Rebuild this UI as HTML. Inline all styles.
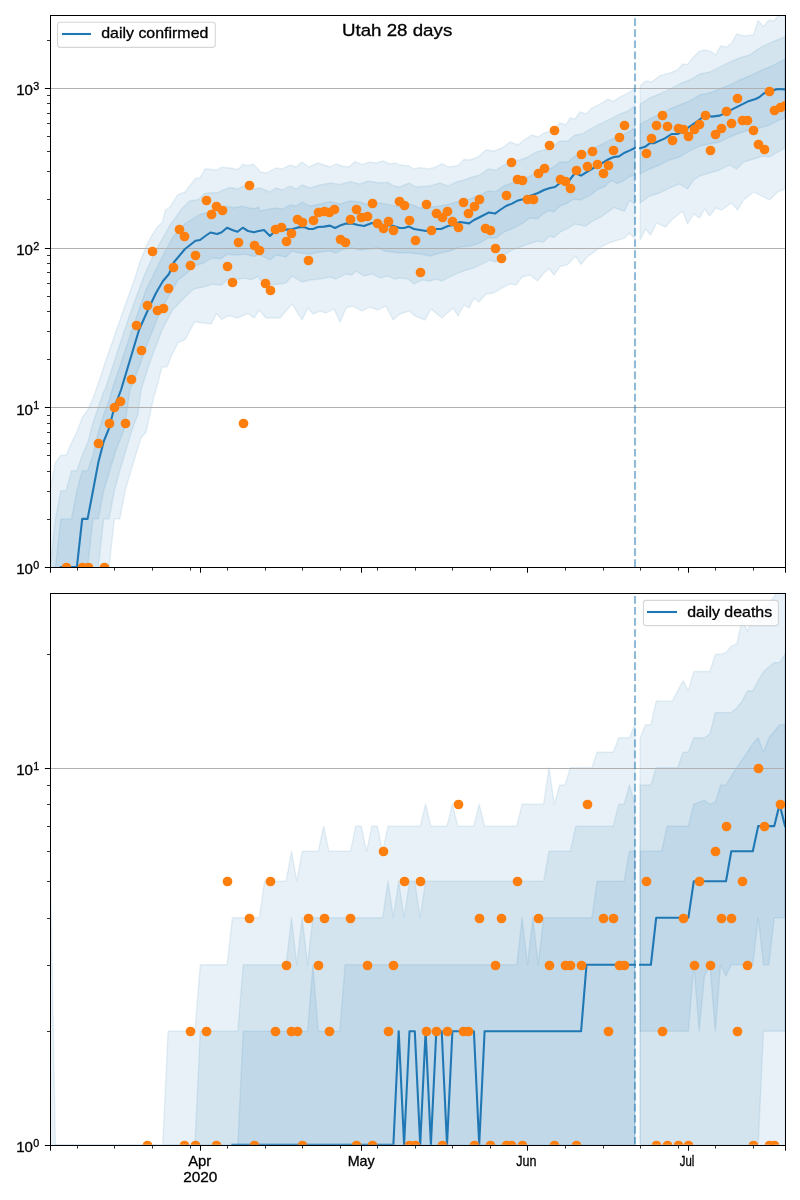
<!DOCTYPE html>
<html><head><meta charset="utf-8"><title>Utah 28 days</title>
<style>html,body{margin:0;padding:0;background:#fff}svg{display:block}</style></head>
<body>
<svg width="800" height="1200" viewBox="0 0 800 1200" font-family="'Liberation Sans', sans-serif">
<rect width="800" height="1200" fill="#fff"/>
<defs>
<clipPath id="c1"><rect x="50.1" y="15.1" width="734.9" height="551.9"/></clipPath>
<clipPath id="c2"><rect x="50.1" y="592.8" width="734.9" height="551.9"/></clipPath>
</defs>
<g clip-path="url(#c1)">
<g fill="#1f77b4" fill-opacity="0.1" stroke="#1f77b4" stroke-opacity="0.1" stroke-width="1.39" stroke-linejoin="round">
<polygon points="50.1,490.8 55.4,462.6 60.8,455.3 66.1,455.3 71.5,442.7 76.9,432 82.2,417.7 87.6,410.1 93,398.2 99.5,380 106,360 113,340 120,320 127,300 134,281 140,261.7 149,240 156.5,228 162.5,222 165.5,210 170,207 177.5,195 185,192 189.5,186 195.5,178.5 200,177.7 205.2,168.7 212,169.5 216.5,170.2 221.7,167.2 230,168 238.2,169.5 242.7,164.2 248,165.7 253.2,164.2 258.5,169.2 260,172 266,173 276,168 282,169 290,165 296,167 302,162 309,167 318,163 324,165 330,167 336,164 342,166 349,167 355,161.6 362,164.4 370,162 376,163 383,161 390,164 396,163 400,165 409,166 414,169 420,167.6 428,169 436,167 442,163.6 448,167 458,165.6 464,159.4 470,160 478,157 486,150 494,151 502,148 510,142 518,145 524,140 532,135 538,137 544,133 552,131 560,123 566,125 570,118 575,119 580,112 586,114 592,108 600,104 608,99 613,101.6 620,97 628,93 634.8,89 634.8,238.2 629,233 624.5,238.2 617,240.5 609.5,242.7 600.5,247.2 594.5,251.7 587,257 581,264.5 575.7,256.2 567.5,264.5 560,266.7 554,275 548.7,268.2 543.5,273.5 537.5,281 530,275 522,277 516,285 510,284 502,288 494,293 486,294 479,302 474,298 469,308 464,305 458,316 453,308 442,318 431,309 425,320 415,316 409,311 400,314 393,320 386,306 378,310 370,307 362,311 352,306 346,308 340,322 334,309 326,313 320,311 313,314 308,308 302,320 292,304 280,318 266,318 259,310 258.5,311.2 254,318 248,313.5 237.5,318 228.5,315.7 221.7,319.5 216.5,313.5 211.2,324 200,322.5 194.7,321.7 189.5,331.5 185,339.7 178.2,342.7 172.2,354 167,367 162,367 156,390 154,396 146,432 141,438 136,454 130,474 125.2,490.8 119.8,518.9 114.4,518.9 109.1,567 103.7,700 50.1,700"/>
<polygon points="50.1,567 55.4,518.9 60.8,490.8 66.1,490.8 71.5,470.8 76.9,470.8 82.2,455.3 87.6,442.7 93,422.7 98.3,407.3 103.7,391.8 105,390 118,350 130,314 144,276 155,252 162.5,238.5 170,225 176.7,216 180.5,210 189.5,201 198.5,199.5 204.5,193.5 212,192.7 218,192.7 224,189.7 230,187.5 237.5,189 243.5,186 249.5,187.5 254,189.3 258.5,188.2 260,188 270,192 276,188 282,190 290,186 296,189 302,185 310,188 320,185 330,183 340,184.4 350,181.6 360,184 368,181 380,183 388,182.4 394,186 400,187 409,183 416,187 430,186 440,183 448,186 456,182 464,180 472,177 480,175 488,169 496,170 504,165 512,161 520,160 528,157 536,152 544,150 552,147 560,141 568,141 575,135 582,134 590,129 600,124 610,119 620,114 628,111 634.8,106 634.8,204.5 629.7,200 624.5,211.2 620,209.7 614,207.5 608,212 600.5,217.2 593,221 585.5,226.2 575,224 567.5,228.5 560,232.2 554,237.5 549.5,236 543.5,242 537.5,241.2 530,243.5 520,247 512,250 504,255 496,262 490,260 482,264 474,268 466,270 458,273 450,277 442,281 436,279 430,281 422,280 414,284 408,279 400,278 394,279 388,276 380,278 372,274 364,276 356,271 352,275 346,274 336,279 330,277 320,279 310,280 302,282 292,276 286,283 280,284 270,285 260,280 258.5,276.4 251,279.7 245,278.2 236,279.3 227,279.7 221.7,285 212,284.2 203,287.2 194,288.7 185,297 172.2,310.5 162,330 150,362 141,390 138,414 132,430 126,450 120,470 114.4,490.8 109.1,518.9 103.7,518.9 98.3,567 93,700 50.1,700"/>
<polygon points="50.1,700 55.4,567 60.8,518.9 66.1,518.9 71.5,518.9 76.9,490.8 82.2,470.8 87.6,470.8 93,455.3 98.3,432 103.7,414.6 109.1,400.6 112,390 122,360 134,324 146,290 155.7,270 164,253.5 173,237 185,223.5 192.5,219 200,214.5 206,213 212,210 218,209.2 225.5,206.2 233,207.7 242,206.2 248,207.7 254,208.8 258.5,207 260,211 270,209 276,208 282,209 290,205 296,206 302,202 310,206 320,204 330,201.6 340,204 350,201 360,202 368,205 380,203 388,204.4 400,207 410,204 420,208 430,207 440,206 450,204 460,201 470,199 480,195 488,191 496,191.6 504,186 512,183 520,180 528,177 536,173 544,171 552,168 560,162 568,162 575,156 582,155 590,150 600,145 610,140 620,136 628,132 634.8,128 634.8,175.2 629,176.7 623,181.2 617,183.5 611,180.5 605,186.5 597.5,189.5 590,195.5 581,200 573.5,199.2 567.5,203 560,206 554,212 549.5,210.5 543.5,213.5 537.5,218.7 530,218 520,225 512,229 504,232 496,238 488,238 480,243 470,246 460,247 450,251 440,253 430,256 420,254 410,253 400,253 392,252 384,251 378,248 370,249 360,250 352,248 344,249 336,253 330,251 320,252 310,254 300,253 292,251 286,257 276,255 270,260 260,255 258.5,254.5 254,256.5 245,254.2 236,255 227,254.2 221,258.7 212,258 204.5,262.5 195.5,265.5 183.5,276 178,280 170,294 160,312 148,342 138,370 130,390 124,430 116,450 110,470 103.7,490.8 98.3,518.9 93,518.9 87.6,567 82.2,700 50.1,700"/>
<polygon points="640.2,86 645.6,81 651.6,82 659.6,76 669.6,73 677.6,70 682.6,64 687.6,64.4 693.6,57 699.6,51 705.6,50 711.6,52 715.6,55 720.6,46 726.6,47 731.6,43 736.6,34 743.6,36 753.6,35 758,20.6 763.5,26.6 768.8,20.2 774.2,21 779.6,14 785,12 785,189 777.6,192 769.6,200 763.6,197 753.6,192 743.6,200 737.6,210 731.6,203 721.6,210 715.6,208 709.6,216 704.6,209 699.6,218 693.6,214 687.6,224 682.6,211 671.6,220 665.6,227 656.6,223 650.6,235 645.6,229 640.2,240"/>
<polygon points="640.2,104 649.6,98 659.6,94 669.6,89 679.6,84 689.6,80 699.6,74 709.6,72 719.6,67 729.6,62 739.6,58 749.6,55 759.6,48 769.6,43 779.6,39 785,37 785,148 779.6,151 769.6,157 763.6,156 753.6,159 743.6,162 736.6,169 729.6,165 719.6,170 709.6,173 699.6,176 693.6,180 687.6,189 679.6,184 669.6,188 659.6,193 649.6,196 640.2,203"/>
<polygon points="640.2,124 649.6,119 659.6,114 669.6,109 679.6,105 689.6,101 699.6,95 709.6,93 719.6,89 729.6,85 739.6,80 749.6,76 759.6,71 769.6,67 779.6,62 785,59 785,118 779.6,120 769.6,125 759.6,128 749.6,130 739.6,133 729.6,137 719.6,142 709.6,144 699.6,146 689.6,151 679.6,157 669.6,160 659.6,165 649.6,169 640.2,174"/>
</g>
<line x1="50.1" x2="785" y1="407.5" y2="407.5" stroke="#b0b0b0" stroke-width="1"/>
<line x1="50.1" x2="785" y1="248.5" y2="248.5" stroke="#b0b0b0" stroke-width="1"/>
<line x1="50.1" x2="785" y1="88.5" y2="88.5" stroke="#b0b0b0" stroke-width="1"/>
<g fill="none" stroke="#1f77b4" stroke-width="2.08" stroke-linejoin="round" stroke-linecap="square">
<polyline points="55.4,700 60.8,567 66.1,567 71.5,567 76.9,567 82.2,518.9 87.6,518.9 93,490.8 98.3,462.6 103.7,441.5 109.1,428.1 114.4,407.3 121,390 130,360 139,330 147,312 156,293 163,281 169,274 173.7,262.5 185,249 195.5,240.7 200,240 206,235.5 210.5,232.5 217.2,234 221.7,232.2 227,227.7 233,230.2 237.5,231.7 242.7,227.7 248,231 254,232.2 258.5,231.1 259,231 264,230 270,236 275,231 280,230 291,229.4 298,227.4 304,227 309,229 313,229 318,227 324,226.6 330,225.6 335,228 340,225.6 346,223.6 352,223.6 358,225 364,226 372,223 378,224 384,225 392,225.6 400,228 404,228 409,226.6 414,229 420,230 426,231 432,229 441,229 448,226 454,225 460,222 469,223.4 474,220 482,216 489,212.4 495,213.6 500,210 506,206 512,203.6 518,200.4 524,199 530,196 538,193 544,190 550,188 555,187 560,183 568,182 575,173 581,175.6 590,170 600,164.4 609,159 614,157 619,156.4 624,153 630,150.4 634.8,148"/>
<polyline points="640.2,148.2 645,146.8 650,143.2 653.8,143.2 665,138.4 671.6,134 677.6,134 687.6,128 697.6,121 705.6,115 711.6,116.6 719.6,115.6 725.6,113 731.6,109.6 739.6,105.6 747.6,101.6 755.6,99 759.6,97 763.6,93.6 769.6,91.6 777.6,89 785,89.4"/>
</g>
<line x1="635" x2="635" y1="567" y2="15.1" stroke="#1f77b4" stroke-opacity="0.5" stroke-width="2.08" stroke-dasharray="7.71 3.33"/>
<g fill="#ff7f0e">
<circle cx="66.5" cy="567.5" r="4.86"/>
<circle cx="82.5" cy="567.5" r="4.86"/>
<circle cx="88.5" cy="567.5" r="4.86"/>
<circle cx="98.5" cy="443.5" r="4.86"/>
<circle cx="104.5" cy="567.5" r="4.86"/>
<circle cx="109.5" cy="423.5" r="4.86"/>
<circle cx="114.5" cy="407.5" r="4.86"/>
<circle cx="120.5" cy="401.5" r="4.86"/>
<circle cx="125.5" cy="423.5" r="4.86"/>
<circle cx="131.5" cy="379.5" r="4.86"/>
<circle cx="136.5" cy="325.5" r="4.86"/>
<circle cx="141.5" cy="350.5" r="4.86"/>
<circle cx="147.5" cy="305.5" r="4.86"/>
<circle cx="152.5" cy="251.5" r="4.86"/>
<circle cx="157.5" cy="310.5" r="4.86"/>
<circle cx="163.5" cy="308.5" r="4.86"/>
<circle cx="168.5" cy="288.5" r="4.86"/>
<circle cx="173.5" cy="267.5" r="4.86"/>
<circle cx="179.5" cy="229.5" r="4.86"/>
<circle cx="184.5" cy="236.5" r="4.86"/>
<circle cx="190.5" cy="265.5" r="4.86"/>
<circle cx="195.5" cy="255.5" r="4.86"/>
<circle cx="206.5" cy="200.5" r="4.86"/>
<circle cx="211.5" cy="214.5" r="4.86"/>
<circle cx="216.5" cy="206.5" r="4.86"/>
<circle cx="222.5" cy="210.5" r="4.86"/>
<circle cx="227.5" cy="266.5" r="4.86"/>
<circle cx="232.5" cy="282.5" r="4.86"/>
<circle cx="238.5" cy="242.5" r="4.86"/>
<circle cx="243.5" cy="423.5" r="4.86"/>
<circle cx="249.5" cy="185.5" r="4.86"/>
<circle cx="254.5" cy="245.5" r="4.86"/>
<circle cx="259.5" cy="250.5" r="4.86"/>
<circle cx="265.5" cy="283.5" r="4.86"/>
<circle cx="270.5" cy="290.5" r="4.86"/>
<circle cx="275.5" cy="229.5" r="4.86"/>
<circle cx="281.5" cy="227.5" r="4.86"/>
<circle cx="286.5" cy="241.5" r="4.86"/>
<circle cx="291.5" cy="233.5" r="4.86"/>
<circle cx="297.5" cy="219.5" r="4.86"/>
<circle cx="302.5" cy="222.5" r="4.86"/>
<circle cx="308.5" cy="260.5" r="4.86"/>
<circle cx="313.5" cy="220.5" r="4.86"/>
<circle cx="318.5" cy="212.5" r="4.86"/>
<circle cx="324.5" cy="211.5" r="4.86"/>
<circle cx="329.5" cy="212.5" r="4.86"/>
<circle cx="334.5" cy="209.5" r="4.86"/>
<circle cx="340.5" cy="239.5" r="4.86"/>
<circle cx="345.5" cy="242.5" r="4.86"/>
<circle cx="350.5" cy="219.5" r="4.86"/>
<circle cx="356.5" cy="209.5" r="4.86"/>
<circle cx="361.5" cy="217.5" r="4.86"/>
<circle cx="367.5" cy="216.5" r="4.86"/>
<circle cx="372.5" cy="203.5" r="4.86"/>
<circle cx="377.5" cy="223.5" r="4.86"/>
<circle cx="383.5" cy="228.5" r="4.86"/>
<circle cx="388.5" cy="221.5" r="4.86"/>
<circle cx="393.5" cy="230.5" r="4.86"/>
<circle cx="399.5" cy="201.5" r="4.86"/>
<circle cx="404.5" cy="205.5" r="4.86"/>
<circle cx="409.5" cy="220.5" r="4.86"/>
<circle cx="415.5" cy="240.5" r="4.86"/>
<circle cx="420.5" cy="272.5" r="4.86"/>
<circle cx="426.5" cy="204.5" r="4.86"/>
<circle cx="431.5" cy="230.5" r="4.86"/>
<circle cx="436.5" cy="213.5" r="4.86"/>
<circle cx="442.5" cy="217.5" r="4.86"/>
<circle cx="447.5" cy="211.5" r="4.86"/>
<circle cx="452.5" cy="221.5" r="4.86"/>
<circle cx="458.5" cy="227.5" r="4.86"/>
<circle cx="463.5" cy="202.5" r="4.86"/>
<circle cx="468.5" cy="213.5" r="4.86"/>
<circle cx="474.5" cy="206.5" r="4.86"/>
<circle cx="479.5" cy="199.5" r="4.86"/>
<circle cx="485.5" cy="228.5" r="4.86"/>
<circle cx="490.5" cy="230.5" r="4.86"/>
<circle cx="495.5" cy="248.5" r="4.86"/>
<circle cx="501.5" cy="258.5" r="4.86"/>
<circle cx="506.5" cy="195.5" r="4.86"/>
<circle cx="511.5" cy="162.5" r="4.86"/>
<circle cx="517.5" cy="179.5" r="4.86"/>
<circle cx="522.5" cy="180.5" r="4.86"/>
<circle cx="527.5" cy="199.5" r="4.86"/>
<circle cx="533.5" cy="199.5" r="4.86"/>
<circle cx="538.5" cy="173.5" r="4.86"/>
<circle cx="544.5" cy="168.5" r="4.86"/>
<circle cx="549.5" cy="145.5" r="4.86"/>
<circle cx="554.5" cy="130.5" r="4.86"/>
<circle cx="560.5" cy="179.5" r="4.86"/>
<circle cx="565.5" cy="181.5" r="4.86"/>
<circle cx="570.5" cy="188.5" r="4.86"/>
<circle cx="576.5" cy="170.5" r="4.86"/>
<circle cx="581.5" cy="154.5" r="4.86"/>
<circle cx="587.5" cy="166.5" r="4.86"/>
<circle cx="592.5" cy="151.5" r="4.86"/>
<circle cx="597.5" cy="164.5" r="4.86"/>
<circle cx="603.5" cy="173.5" r="4.86"/>
<circle cx="608.5" cy="165.5" r="4.86"/>
<circle cx="613.5" cy="150.5" r="4.86"/>
<circle cx="619.5" cy="137.5" r="4.86"/>
<circle cx="624.5" cy="125.5" r="4.86"/>
<circle cx="646.5" cy="153.5" r="4.86"/>
<circle cx="651.5" cy="138.5" r="4.86"/>
<circle cx="656.5" cy="125.5" r="4.86"/>
<circle cx="662.5" cy="115.5" r="4.86"/>
<circle cx="667.5" cy="126.5" r="4.86"/>
<circle cx="672.5" cy="140.5" r="4.86"/>
<circle cx="678.5" cy="128.5" r="4.86"/>
<circle cx="683.5" cy="129.5" r="4.86"/>
<circle cx="688.5" cy="136.5" r="4.86"/>
<circle cx="694.5" cy="129.5" r="4.86"/>
<circle cx="699.5" cy="124.5" r="4.86"/>
<circle cx="705.5" cy="115.5" r="4.86"/>
<circle cx="710.5" cy="150.5" r="4.86"/>
<circle cx="715.5" cy="134.5" r="4.86"/>
<circle cx="721.5" cy="128.5" r="4.86"/>
<circle cx="726.5" cy="111.5" r="4.86"/>
<circle cx="731.5" cy="123.5" r="4.86"/>
<circle cx="737.5" cy="98.5" r="4.86"/>
<circle cx="742.5" cy="120.5" r="4.86"/>
<circle cx="747.5" cy="120.5" r="4.86"/>
<circle cx="753.5" cy="130.5" r="4.86"/>
<circle cx="758.5" cy="144.5" r="4.86"/>
<circle cx="764.5" cy="149.5" r="4.86"/>
<circle cx="769.5" cy="91.5" r="4.86"/>
<circle cx="774.5" cy="110.5" r="4.86"/>
<circle cx="780.5" cy="107.5" r="4.86"/>
<circle cx="785.5" cy="105.5" r="4.86"/>
</g>
</g>
<g clip-path="url(#c2)">
<g fill="#1f77b4" fill-opacity="0.1" stroke="#1f77b4" stroke-opacity="0.1" stroke-width="1.39" stroke-linejoin="round">
<polygon points="50.1,845 55.4,1144.7 50.1,1144.7"/>
<polygon points="55.4,6000 60.8,6000 66.1,6000 71.5,6000 76.9,6000 82.2,6000 87.6,6000 93,6000 98.3,6000 103.7,6000 109.1,6000 114.4,6000 119.8,6000 125.2,6000 130.5,6000 135.9,6000 141.3,6000 146.6,6000 152,6000 157.3,6000 162.7,1144.7 168.1,1031.2 173.4,1031.2 178.8,1031.2 184.2,1031.2 189.5,1031.2 194.9,1031.2 200.3,964.8 205.6,964.8 211,964.8 216.4,964.8 221.7,964.8 227.1,964.8 232.4,917.7 237.8,917.7 243.2,917.7 248.5,917.7 253.9,917.7 259.3,917.7 264.6,881.2 270,881.2 275.4,881.2 280.7,881.2 286.1,881.2 291.5,851.3 296.8,881.2 302.2,851.3 307.6,851.3 312.9,851.3 318.3,851.3 323.6,826.1 329,851.3 334.4,851.3 339.7,851.3 345.1,851.3 350.5,851.3 355.8,826.1 361.2,826.1 366.6,851.3 371.9,826.1 377.3,826.1 382.7,851.3 388,826.1 393.4,826.1 398.7,826.1 404.1,826.1 409.5,826.1 414.8,826.1 420.2,826.1 425.6,804.2 430.9,826.1 436.3,826.1 441.7,826.1 447,826.1 452.4,804.2 457.8,826.1 463.1,826.1 468.5,826.1 473.9,826.1 479.2,804.2 484.6,826.1 489.9,826.1 495.3,826.1 500.7,826.1 506,826.1 511.4,826.1 516.8,826.1 522.1,804.2 527.5,804.2 532.9,804.2 538.2,804.2 543.6,804.2 549,767.7 554.3,804.2 559.7,785 565,785 570.4,767.7 575.8,767.7 581.1,767.7 586.5,767.7 591.9,767.7 597.2,752.1 602.6,752.1 608,752.1 613.3,752.1 618.7,737.8 624.1,737.8 629.4,737.8 634.8,724.7 634.8,1145 55.4,1145"/>
<polygon points="55.4,6000 60.8,6000 66.1,6000 71.5,6000 76.9,6000 82.2,6000 87.6,6000 93,6000 98.3,6000 103.7,6000 109.1,6000 114.4,6000 119.8,6000 125.2,6000 130.5,6000 135.9,6000 141.3,6000 146.6,6000 152,6000 157.3,6000 162.7,6000 168.1,6000 173.4,6000 178.8,6000 184.2,6000 189.5,6000 194.9,1144.7 200.3,1031.2 205.6,1031.2 211,1031.2 216.4,1031.2 221.7,1031.2 227.1,1031.2 232.4,1031.2 237.8,1031.2 243.2,964.8 248.5,964.8 253.9,964.8 259.3,964.8 264.6,964.8 270,964.8 275.4,964.8 280.7,964.8 286.1,964.8 291.5,917.7 296.8,964.8 302.2,917.7 307.6,964.8 312.9,917.7 318.3,917.7 323.6,917.7 329,917.7 334.4,917.7 339.7,917.7 345.1,917.7 350.5,917.7 355.8,917.7 361.2,917.7 366.6,917.7 371.9,917.7 377.3,917.7 382.7,917.7 388,881.2 393.4,917.7 398.7,881.2 404.1,917.7 409.5,881.2 414.8,881.2 420.2,917.7 425.6,881.2 430.9,881.2 436.3,881.2 441.7,881.2 447,881.2 452.4,881.2 457.8,881.2 463.1,881.2 468.5,881.2 473.9,881.2 479.2,881.2 484.6,881.2 489.9,881.2 495.3,881.2 500.7,881.2 506,881.2 511.4,881.2 516.8,881.2 522.1,881.2 527.5,881.2 532.9,881.2 538.2,881.2 543.6,881.2 549,851.3 554.3,851.3 559.7,851.3 565,851.3 570.4,851.3 575.8,826.1 581.1,826.1 586.5,826.1 591.9,826.1 597.2,826.1 602.6,826.1 608,826.1 613.3,826.1 618.7,804.2 624.1,804.2 629.4,785 634.8,804.2 634.8,1145 55.4,1145"/>
<polygon points="55.4,6000 60.8,6000 66.1,6000 71.5,6000 76.9,6000 82.2,6000 87.6,6000 93,6000 98.3,6000 103.7,6000 109.1,6000 114.4,6000 119.8,6000 125.2,6000 130.5,6000 135.9,6000 141.3,6000 146.6,6000 152,6000 157.3,6000 162.7,6000 168.1,6000 173.4,6000 178.8,6000 184.2,6000 189.5,6000 194.9,6000 200.3,6000 205.6,6000 211,6000 216.4,6000 221.7,6000 227.1,6000 232.4,6000 237.8,1144.7 243.2,1031.2 248.5,1031.2 253.9,1031.2 259.3,1031.2 264.6,1031.2 270,1031.2 275.4,1031.2 280.7,1031.2 286.1,1031.2 291.5,1031.2 296.8,1031.2 302.2,1031.2 307.6,1031.2 312.9,964.8 318.3,1031.2 323.6,1031.2 329,1031.2 334.4,1031.2 339.7,1031.2 345.1,964.8 350.5,964.8 355.8,964.8 361.2,964.8 366.6,964.8 371.9,964.8 377.3,964.8 382.7,964.8 388,964.8 393.4,964.8 398.7,964.8 404.1,964.8 409.5,964.8 414.8,964.8 420.2,964.8 425.6,964.8 430.9,964.8 436.3,964.8 441.7,964.8 447,964.8 452.4,964.8 457.8,964.8 463.1,964.8 468.5,964.8 473.9,964.8 479.2,964.8 484.6,964.8 489.9,964.8 495.3,964.8 500.7,964.8 506,964.8 511.4,964.8 516.8,964.8 522.1,917.7 527.5,964.8 532.9,917.7 538.2,964.8 543.6,917.7 549,917.7 554.3,917.7 559.7,917.7 565,917.7 570.4,917.7 575.8,917.7 581.1,917.7 586.5,917.7 591.9,917.7 597.2,881.2 602.6,881.2 608,881.2 613.3,881.2 618.7,881.2 624.1,881.2 629.4,851.3 634.8,851.3 634.8,1145 55.4,1145"/>
<polygon points="640.1,737.8 645.5,724.7 650.9,724.7 656.2,701.3 661.6,701.3 667,701.3 672.3,701.3 677.7,690.7 683.1,680.8 688.4,690.7 693.8,671.5 699.2,671.5 704.5,671.5 709.9,671.5 715.3,654.2 720.6,654.2 726,652.6 731.3,646.2 736.7,643.9 742.1,620.3 747.4,631.3 752.8,617.7 758.2,616.4 763.5,608.1 768.9,603.3 774.3,596.2 779.6,587.8 785,587.8 785,1145 640.1,1145"/>
<polygon points="640.1,785 645.5,785 650.9,785 656.2,767.7 661.6,767.7 667,767.7 672.3,767.7 677.7,767.7 683.1,752.1 688.4,752.1 693.8,737.8 699.2,737.8 704.5,737.8 709.9,733.8 715.3,712.6 720.6,712.6 726,712.6 731.3,712.6 736.7,708 742.1,701.3 747.4,690.7 752.8,690.7 758.2,680.8 763.5,671.5 768.9,667 774.3,662.6 779.6,662.6 785,654.2 785,1031.2 779.6,1031.2 774.3,1031.2 768.9,1031.2 763.5,1031.2 758.2,1144.7 752.8,1144.7 747.4,1144.7 742.1,1144.7 736.7,1144.7 731.3,1144.7 726,1144.7 720.6,1144.7 715.3,1144.7 709.9,1144.7 704.5,1144.7 699.2,1144.7 693.8,1144.7 688.4,1144.7 683.1,1144.7 677.7,1144.7 672.3,1144.7 667,1144.7 661.6,1144.7 656.2,1144.7 650.9,1144.7 645.5,1144.7 640.1,1144.7"/>
<polygon points="640.1,851.3 645.5,851.3 650.9,851.3 656.2,851.3 661.6,851.3 667,826.1 672.3,826.1 677.7,826.1 683.1,826.1 688.4,826.1 693.8,804.2 699.2,802.2 704.5,800.2 709.9,804.2 715.3,802.2 720.6,785 726,785 731.3,776.1 736.7,767.7 742.1,759.7 747.4,752.1 752.8,743.4 758.2,737.8 763.5,752.1 768.9,737.8 774.3,731.2 779.6,724.7 785,724.7 785,917.7 779.6,917.7 774.3,917.7 768.9,964.8 763.5,964.8 758.2,917.7 752.8,964.8 747.4,964.8 742.1,964.8 736.7,964.8 731.3,964.8 726,976.1 720.6,964.8 715.3,1031.2 709.9,964.8 704.5,976.1 699.2,1031.2 693.8,964.8 688.4,1031.2 683.1,1031.2 677.7,1031.2 672.3,1031.2 667,1031.2 661.6,1031.2 656.2,1031.2 650.9,1031.2 645.5,1031.2 640.1,1031.2"/>
</g>
<line x1="50.1" x2="785" y1="768.5" y2="768.5" stroke="#b0b0b0" stroke-width="1"/>
<g fill="none" stroke="#1f77b4" stroke-width="2.08" stroke-linejoin="round" stroke-linecap="square">
<polyline points="232.4,1144.7 237.8,1144.7 243.2,1144.7 248.5,1144.7 253.9,1144.7 259.3,1144.7 264.6,1144.7 270,1144.7 275.4,1144.7 280.7,1144.7 286.1,1144.7 291.5,1144.7 296.8,1144.7 302.2,1144.7 307.6,1144.7 312.9,1144.7 318.3,1144.7 323.6,1144.7 329,1144.7 334.4,1144.7 339.7,1144.7 345.1,1144.7 350.5,1144.7 355.8,1144.7 361.2,1144.7 366.6,1144.7 371.9,1144.7 377.3,1144.7 382.7,1144.7 388,1144.7 393.4,1144.7 398.7,1031.2 404.1,1144.7 409.5,1031.2 414.8,1031.2 420.2,1144.7 425.6,1031.2 430.9,1144.7 436.3,1031.2 441.7,1031.2 447,1144.7 452.4,1031.2 457.8,1031.2 463.1,1031.2 468.5,1031.2 473.9,1031.2 479.2,1144.7 484.6,1031.2 489.9,1031.2 495.3,1031.2 500.7,1031.2 506,1031.2 511.4,1031.2 516.8,1031.2 522.1,1031.2 527.5,1031.2 532.9,1031.2 538.2,1031.2 543.6,1031.2 549,1031.2 554.3,1031.2 559.7,1031.2 565,1031.2 570.4,1031.2 575.8,1031.2 581.1,1031.2 586.5,964.8 591.9,964.8 597.2,964.8 602.6,964.8 608,964.8 613.3,964.8 618.7,964.8 624.1,964.8 629.4,964.8 634.8,964.8"/>
<polyline points="640.1,964.8 645.5,964.8 650.9,964.8 656.2,917.7 661.6,917.7 667,917.7 672.3,917.7 677.7,917.7 683.1,917.7 688.4,917.7 693.8,881.2 699.2,881.2 704.5,881.2 709.9,881.2 715.3,881.2 720.6,881.2 726,881.2 731.3,851.3 736.7,851.3 742.1,851.3 747.4,851.3 752.8,851.3 758.2,826.1 763.5,826.1 768.9,826.1 774.3,826.1 779.6,804.2 785,826.1"/>
</g>
<line x1="635" x2="635" y1="1144.7" y2="592.8" stroke="#1f77b4" stroke-opacity="0.5" stroke-width="2.08" stroke-dasharray="7.71 3.33"/>
<g fill="#ff7f0e">
<circle cx="147.5" cy="1145.5" r="4.86"/>
<circle cx="184.5" cy="1145.5" r="4.86"/>
<circle cx="190.5" cy="1031.5" r="4.86"/>
<circle cx="195.5" cy="1145.5" r="4.86"/>
<circle cx="206.5" cy="1031.5" r="4.86"/>
<circle cx="216.5" cy="1145.5" r="4.86"/>
<circle cx="227.5" cy="881.5" r="4.86"/>
<circle cx="249.5" cy="918.5" r="4.86"/>
<circle cx="254.5" cy="1145.5" r="4.86"/>
<circle cx="270.5" cy="881.5" r="4.86"/>
<circle cx="275.5" cy="1031.5" r="4.86"/>
<circle cx="286.5" cy="965.5" r="4.86"/>
<circle cx="291.5" cy="1031.5" r="4.86"/>
<circle cx="297.5" cy="1031.5" r="4.86"/>
<circle cx="302.5" cy="1145.5" r="4.86"/>
<circle cx="308.5" cy="918.5" r="4.86"/>
<circle cx="318.5" cy="965.5" r="4.86"/>
<circle cx="324.5" cy="918.5" r="4.86"/>
<circle cx="329.5" cy="1031.5" r="4.86"/>
<circle cx="350.5" cy="918.5" r="4.86"/>
<circle cx="356.5" cy="1145.5" r="4.86"/>
<circle cx="367.5" cy="965.5" r="4.86"/>
<circle cx="372.5" cy="1145.5" r="4.86"/>
<circle cx="383.5" cy="851.5" r="4.86"/>
<circle cx="388.5" cy="1031.5" r="4.86"/>
<circle cx="393.5" cy="965.5" r="4.86"/>
<circle cx="404.5" cy="881.5" r="4.86"/>
<circle cx="409.5" cy="1145.5" r="4.86"/>
<circle cx="415.5" cy="1145.5" r="4.86"/>
<circle cx="420.5" cy="881.5" r="4.86"/>
<circle cx="426.5" cy="1031.5" r="4.86"/>
<circle cx="436.5" cy="1031.5" r="4.86"/>
<circle cx="442.5" cy="1145.5" r="4.86"/>
<circle cx="447.5" cy="1031.5" r="4.86"/>
<circle cx="458.5" cy="804.5" r="4.86"/>
<circle cx="463.5" cy="1031.5" r="4.86"/>
<circle cx="468.5" cy="1031.5" r="4.86"/>
<circle cx="474.5" cy="1145.5" r="4.86"/>
<circle cx="479.5" cy="918.5" r="4.86"/>
<circle cx="490.5" cy="1145.5" r="4.86"/>
<circle cx="495.5" cy="965.5" r="4.86"/>
<circle cx="501.5" cy="918.5" r="4.86"/>
<circle cx="506.5" cy="1145.5" r="4.86"/>
<circle cx="511.5" cy="1145.5" r="4.86"/>
<circle cx="517.5" cy="881.5" r="4.86"/>
<circle cx="522.5" cy="1145.5" r="4.86"/>
<circle cx="538.5" cy="918.5" r="4.86"/>
<circle cx="549.5" cy="965.5" r="4.86"/>
<circle cx="554.5" cy="1145.5" r="4.86"/>
<circle cx="565.5" cy="965.5" r="4.86"/>
<circle cx="570.5" cy="965.5" r="4.86"/>
<circle cx="576.5" cy="1145.5" r="4.86"/>
<circle cx="581.5" cy="965.5" r="4.86"/>
<circle cx="587.5" cy="804.5" r="4.86"/>
<circle cx="603.5" cy="918.5" r="4.86"/>
<circle cx="608.5" cy="1031.5" r="4.86"/>
<circle cx="613.5" cy="918.5" r="4.86"/>
<circle cx="619.5" cy="965.5" r="4.86"/>
<circle cx="624.5" cy="965.5" r="4.86"/>
<circle cx="646.5" cy="881.5" r="4.86"/>
<circle cx="656.5" cy="1145.5" r="4.86"/>
<circle cx="662.5" cy="1031.5" r="4.86"/>
<circle cx="667.5" cy="1145.5" r="4.86"/>
<circle cx="678.5" cy="1145.5" r="4.86"/>
<circle cx="683.5" cy="918.5" r="4.86"/>
<circle cx="688.5" cy="1145.5" r="4.86"/>
<circle cx="694.5" cy="965.5" r="4.86"/>
<circle cx="699.5" cy="881.5" r="4.86"/>
<circle cx="710.5" cy="965.5" r="4.86"/>
<circle cx="715.5" cy="851.5" r="4.86"/>
<circle cx="721.5" cy="918.5" r="4.86"/>
<circle cx="726.5" cy="826.5" r="4.86"/>
<circle cx="731.5" cy="918.5" r="4.86"/>
<circle cx="737.5" cy="1031.5" r="4.86"/>
<circle cx="742.5" cy="881.5" r="4.86"/>
<circle cx="747.5" cy="965.5" r="4.86"/>
<circle cx="753.5" cy="1145.5" r="4.86"/>
<circle cx="758.5" cy="768.5" r="4.86"/>
<circle cx="764.5" cy="826.5" r="4.86"/>
<circle cx="769.5" cy="1145.5" r="4.86"/>
<circle cx="774.5" cy="1145.5" r="4.86"/>
<circle cx="780.5" cy="804.5" r="4.86"/>
</g>
</g>
<g stroke="#000" stroke-width="1" fill="none">
<rect x="50.5" y="15.5" width="735" height="552"/>
<rect x="50.5" y="593.5" width="735" height="552"/>
<line x1="44.9" x2="50.1" y1="567.5" y2="567.5"/>
<line x1="44.9" x2="50.1" y1="407.5" y2="407.5"/>
<line x1="44.9" x2="50.1" y1="248.5" y2="248.5"/>
<line x1="44.9" x2="50.1" y1="88.5" y2="88.5"/>
<line x1="47" x2="50.1" y1="519.5" y2="519.5" stroke-width="0.8"/>
<line x1="47" x2="50.1" y1="491.5" y2="491.5" stroke-width="0.8"/>
<line x1="47" x2="50.1" y1="471.5" y2="471.5" stroke-width="0.8"/>
<line x1="47" x2="50.1" y1="455.5" y2="455.5" stroke-width="0.8"/>
<line x1="47" x2="50.1" y1="443.5" y2="443.5" stroke-width="0.8"/>
<line x1="47" x2="50.1" y1="432.5" y2="432.5" stroke-width="0.8"/>
<line x1="47" x2="50.1" y1="423.5" y2="423.5" stroke-width="0.8"/>
<line x1="47" x2="50.1" y1="415.5" y2="415.5" stroke-width="0.8"/>
<line x1="47" x2="50.1" y1="359.5" y2="359.5" stroke-width="0.8"/>
<line x1="47" x2="50.1" y1="331.5" y2="331.5" stroke-width="0.8"/>
<line x1="47" x2="50.1" y1="311.5" y2="311.5" stroke-width="0.8"/>
<line x1="47" x2="50.1" y1="296.5" y2="296.5" stroke-width="0.8"/>
<line x1="47" x2="50.1" y1="283.5" y2="283.5" stroke-width="0.8"/>
<line x1="47" x2="50.1" y1="272.5" y2="272.5" stroke-width="0.8"/>
<line x1="47" x2="50.1" y1="263.5" y2="263.5" stroke-width="0.8"/>
<line x1="47" x2="50.1" y1="255.5" y2="255.5" stroke-width="0.8"/>
<line x1="47" x2="50.1" y1="199.5" y2="199.5" stroke-width="0.8"/>
<line x1="47" x2="50.1" y1="171.5" y2="171.5" stroke-width="0.8"/>
<line x1="47" x2="50.1" y1="151.5" y2="151.5" stroke-width="0.8"/>
<line x1="47" x2="50.1" y1="136.5" y2="136.5" stroke-width="0.8"/>
<line x1="47" x2="50.1" y1="123.5" y2="123.5" stroke-width="0.8"/>
<line x1="47" x2="50.1" y1="113.5" y2="113.5" stroke-width="0.8"/>
<line x1="47" x2="50.1" y1="103.5" y2="103.5" stroke-width="0.8"/>
<line x1="47" x2="50.1" y1="95.5" y2="95.5" stroke-width="0.8"/>
<line x1="47" x2="50.1" y1="40.5" y2="40.5" stroke-width="0.8"/>
<line x1="44.9" x2="50.1" y1="1145.5" y2="1145.5"/>
<line x1="44.9" x2="50.1" y1="768.5" y2="768.5"/>
<line x1="47" x2="50.1" y1="1031.5" y2="1031.5" stroke-width="0.8"/>
<line x1="47" x2="50.1" y1="965.5" y2="965.5" stroke-width="0.8"/>
<line x1="47" x2="50.1" y1="918.5" y2="918.5" stroke-width="0.8"/>
<line x1="47" x2="50.1" y1="881.5" y2="881.5" stroke-width="0.8"/>
<line x1="47" x2="50.1" y1="851.5" y2="851.5" stroke-width="0.8"/>
<line x1="47" x2="50.1" y1="826.5" y2="826.5" stroke-width="0.8"/>
<line x1="47" x2="50.1" y1="804.5" y2="804.5" stroke-width="0.8"/>
<line x1="47" x2="50.1" y1="785.5" y2="785.5" stroke-width="0.8"/>
<line x1="47" x2="50.1" y1="654.5" y2="654.5" stroke-width="0.8"/>
<line x1="50.5" x2="50.5" y1="567.5" y2="572.7"/>
<line x1="200.5" x2="200.5" y1="567.5" y2="572.7"/>
<line x1="361.5" x2="361.5" y1="567.5" y2="572.7"/>
<line x1="527.5" x2="527.5" y1="567.5" y2="572.7"/>
<line x1="688.5" x2="688.5" y1="567.5" y2="572.7"/>
<line x1="785.5" x2="785.5" y1="567.5" y2="572.7"/>
<line x1="77.5" x2="77.5" y1="567.5" y2="570.6" stroke-width="0.8"/>
<line x1="114.5" x2="114.5" y1="567.5" y2="570.6" stroke-width="0.8"/>
<line x1="152.5" x2="152.5" y1="567.5" y2="570.6" stroke-width="0.8"/>
<line x1="190.5" x2="190.5" y1="567.5" y2="570.6" stroke-width="0.8"/>
<line x1="227.5" x2="227.5" y1="567.5" y2="570.6" stroke-width="0.8"/>
<line x1="265.5" x2="265.5" y1="567.5" y2="570.6" stroke-width="0.8"/>
<line x1="302.5" x2="302.5" y1="567.5" y2="570.6" stroke-width="0.8"/>
<line x1="340.5" x2="340.5" y1="567.5" y2="570.6" stroke-width="0.8"/>
<line x1="377.5" x2="377.5" y1="567.5" y2="570.6" stroke-width="0.8"/>
<line x1="415.5" x2="415.5" y1="567.5" y2="570.6" stroke-width="0.8"/>
<line x1="452.5" x2="452.5" y1="567.5" y2="570.6" stroke-width="0.8"/>
<line x1="490.5" x2="490.5" y1="567.5" y2="570.6" stroke-width="0.8"/>
<line x1="527.5" x2="527.5" y1="567.5" y2="570.6" stroke-width="0.8"/>
<line x1="565.5" x2="565.5" y1="567.5" y2="570.6" stroke-width="0.8"/>
<line x1="603.5" x2="603.5" y1="567.5" y2="570.6" stroke-width="0.8"/>
<line x1="640.5" x2="640.5" y1="567.5" y2="570.6" stroke-width="0.8"/>
<line x1="678.5" x2="678.5" y1="567.5" y2="570.6" stroke-width="0.8"/>
<line x1="715.5" x2="715.5" y1="567.5" y2="570.6" stroke-width="0.8"/>
<line x1="753.5" x2="753.5" y1="567.5" y2="570.6" stroke-width="0.8"/>
<line x1="50.5" x2="50.5" y1="1145.5" y2="1150.7"/>
<line x1="200.5" x2="200.5" y1="1145.5" y2="1150.7"/>
<line x1="361.5" x2="361.5" y1="1145.5" y2="1150.7"/>
<line x1="527.5" x2="527.5" y1="1145.5" y2="1150.7"/>
<line x1="688.5" x2="688.5" y1="1145.5" y2="1150.7"/>
<line x1="785.5" x2="785.5" y1="1145.5" y2="1150.7"/>
<line x1="77.5" x2="77.5" y1="1145.5" y2="1148.6" stroke-width="0.8"/>
<line x1="114.5" x2="114.5" y1="1145.5" y2="1148.6" stroke-width="0.8"/>
<line x1="152.5" x2="152.5" y1="1145.5" y2="1148.6" stroke-width="0.8"/>
<line x1="190.5" x2="190.5" y1="1145.5" y2="1148.6" stroke-width="0.8"/>
<line x1="227.5" x2="227.5" y1="1145.5" y2="1148.6" stroke-width="0.8"/>
<line x1="265.5" x2="265.5" y1="1145.5" y2="1148.6" stroke-width="0.8"/>
<line x1="302.5" x2="302.5" y1="1145.5" y2="1148.6" stroke-width="0.8"/>
<line x1="340.5" x2="340.5" y1="1145.5" y2="1148.6" stroke-width="0.8"/>
<line x1="377.5" x2="377.5" y1="1145.5" y2="1148.6" stroke-width="0.8"/>
<line x1="415.5" x2="415.5" y1="1145.5" y2="1148.6" stroke-width="0.8"/>
<line x1="452.5" x2="452.5" y1="1145.5" y2="1148.6" stroke-width="0.8"/>
<line x1="490.5" x2="490.5" y1="1145.5" y2="1148.6" stroke-width="0.8"/>
<line x1="527.5" x2="527.5" y1="1145.5" y2="1148.6" stroke-width="0.8"/>
<line x1="565.5" x2="565.5" y1="1145.5" y2="1148.6" stroke-width="0.8"/>
<line x1="603.5" x2="603.5" y1="1145.5" y2="1148.6" stroke-width="0.8"/>
<line x1="640.5" x2="640.5" y1="1145.5" y2="1148.6" stroke-width="0.8"/>
<line x1="678.5" x2="678.5" y1="1145.5" y2="1148.6" stroke-width="0.8"/>
<line x1="715.5" x2="715.5" y1="1145.5" y2="1148.6" stroke-width="0.8"/>
<line x1="753.5" x2="753.5" y1="1145.5" y2="1148.6" stroke-width="0.8"/>
</g>
<g fill="#000" stroke="#000" stroke-width="0.3" font-size="13.9px" style="filter:grayscale(1)">
<text x="33.0" y="574.2" text-anchor="end" textLength="16.8" lengthAdjust="spacingAndGlyphs">10</text>
<text x="33.2" y="569.1" font-size="10.4px" textLength="6.0" lengthAdjust="spacingAndGlyphs">0</text>
<text x="33.0" y="414.5" text-anchor="end" textLength="16.8" lengthAdjust="spacingAndGlyphs">10</text>
<text x="33.2" y="409.4" font-size="10.4px" textLength="6.0" lengthAdjust="spacingAndGlyphs">1</text>
<text x="33.0" y="254.8" text-anchor="end" textLength="16.8" lengthAdjust="spacingAndGlyphs">10</text>
<text x="33.2" y="249.7" font-size="10.4px" textLength="6.0" lengthAdjust="spacingAndGlyphs">2</text>
<text x="33.0" y="95.1" text-anchor="end" textLength="16.8" lengthAdjust="spacingAndGlyphs">10</text>
<text x="33.2" y="90" font-size="10.4px" textLength="6.0" lengthAdjust="spacingAndGlyphs">3</text>
<text x="33.0" y="1151.9" text-anchor="end" textLength="16.8" lengthAdjust="spacingAndGlyphs">10</text>
<text x="33.2" y="1146.8" font-size="10.4px" textLength="6.0" lengthAdjust="spacingAndGlyphs">0</text>
<text x="33.0" y="774.9" text-anchor="end" textLength="16.8" lengthAdjust="spacingAndGlyphs">10</text>
<text x="33.2" y="769.8" font-size="10.4px" textLength="6.0" lengthAdjust="spacingAndGlyphs">1</text>
<text x="199.7" y="1166.4" text-anchor="middle" textLength="23.1" lengthAdjust="spacingAndGlyphs">Apr</text>
<text x="361.2" y="1166.4" text-anchor="middle" textLength="27.0" lengthAdjust="spacingAndGlyphs">May</text>
<text x="526.4" y="1166.4" text-anchor="middle" textLength="20.2" lengthAdjust="spacingAndGlyphs">Jun</text>
<text x="687.1" y="1166.4" text-anchor="middle" textLength="14.6" lengthAdjust="spacingAndGlyphs">Jul</text>
<text x="200.3" y="1181.6" text-anchor="middle" textLength="34.2" lengthAdjust="spacingAndGlyphs">2020</text>
</g>
<text style="filter:grayscale(1)" stroke="#000" stroke-width="0.3" x="397.1" y="35.8" font-size="16.9px" text-anchor="middle" textLength="110.3" lengthAdjust="spacingAndGlyphs">Utah 28 days</text>
<rect x="57.5" y="22.2" width="157.8" height="25.2" rx="2.8" ry="2.8" fill="#fff" fill-opacity="0.8" stroke="#ccc" stroke-opacity="0.8" stroke-width="1.11"/>
<line x1="62" x2="91" y1="34" y2="34" stroke="#1f77b4" stroke-width="2.08"/>
<text style="filter:grayscale(1)" stroke="#000" stroke-width="0.3" x="101.2" y="38.4" font-size="14.6px" textLength="107.2" lengthAdjust="spacingAndGlyphs">daily confirmed</text>
<rect x="643.4" y="600.4" width="135" height="25.2" rx="2.8" ry="2.8" fill="#fff" fill-opacity="0.8" stroke="#ccc" stroke-opacity="0.8" stroke-width="1.11"/>
<line x1="647" x2="677" y1="612" y2="612" stroke="#1f77b4" stroke-width="2.08"/>
<text style="filter:grayscale(1)" stroke="#000" stroke-width="0.3" x="687.2" y="616.6" font-size="14.6px" textLength="85" lengthAdjust="spacingAndGlyphs">daily deaths</text>
</svg>
</body></html>
